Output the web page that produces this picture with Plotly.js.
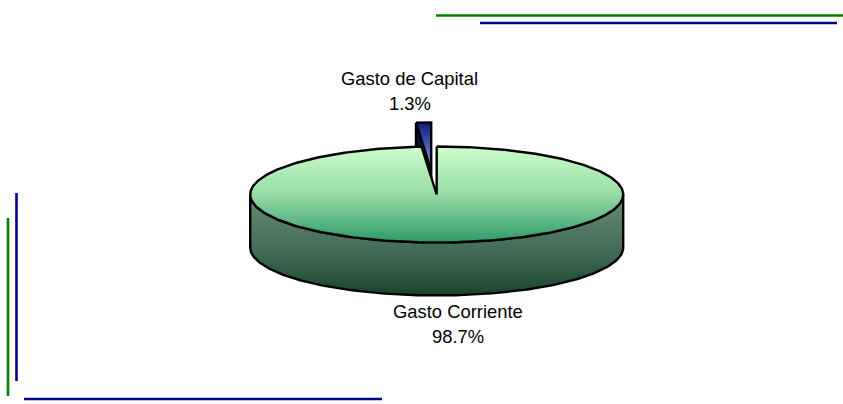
<!DOCTYPE html>
<html>
<head>
<meta charset="utf-8">
<script src="https://cdn.plot.ly/plotly-3.0.1.min.js"></script>
<style>html,body{margin:0;padding:0;background:#fff}#chart{width:843px;height:404px}</style>
</head>
<body>
<div id="chart"></div>
<script>
// Budget split between current and capital spending
const categories = ["Gasto Corriente", "Gasto de Capital"];
const shares = [98.7, 1.3];

// Pie geometry on the pixel-scaled axes
const cx = 436.7, cy = 194.5, rx = 186.5, ry = 48, depth = 53;
const explode = {dx: -5.5, dy: -24};

const outline = {color: "#000000", width: 2.4, shape: "linear"};

function rim(fromDeg, toDeg, ox, oy, drop) {
  const xs = [], ys = [];
  const steps = Math.max(2, Math.ceil(Math.abs(toDeg - fromDeg)));
  for (let i = 0; i <= steps; i++) {
    const t = (fromDeg + (toDeg - fromDeg) * i / steps) * Math.PI / 180;
    xs.push(cx + ox + rx * Math.sin(t));
    ys.push(cy + oy + drop - ry * Math.cos(t));
  }
  return {xs, ys};
}

function poly(xs, ys, stops) {
  return {
    type: "scatter", mode: "lines", x: xs.concat(xs[0]), y: ys.concat(ys[0]),
    fill: "toself", line: outline, hoverinfo: "skip", showlegend: false,
    fillgradient: {type: "vertical", colorscale: stops}
  };
}

// Slice angles follow from the shares, starting at twelve o'clock
const mainEnd = shares[0] / (shares[0] + shares[1]) * 360;

// Exploded capital slice: cut wall, then top face
const capA = rim(mainEnd, 360, explode.dx, explode.dy, 0);
const capWallX = [capA.xs[0], cx + explode.dx, cx + explode.dx, capA.xs[0]];
const capWallY = [capA.ys[0], cy + explode.dy, cy + explode.dy + depth, capA.ys[0] + depth];
const capWall = poly(capWallX, capWallY, [[0, "#0b1a63"], [1, "#050d3a"]]);
const capTop = poly(capA.xs.concat(cx + explode.dx), capA.ys.concat(cy + explode.dy),
                    [[0, "#7aa6ea"], [1, "#101c7a"]]);

// Main slice: front wall, then top face
const front = rim(90, 270, 0, 0, 0);
const frontLow = rim(270, 90, 0, 0, depth);
const mainWall = poly(front.xs.concat(frontLow.xs), front.ys.concat(frontLow.ys),
                      [[0, "#1a452c"], [0.5, "#46705a"], [1, "#6b8a72"]]);
const mainA = rim(0, mainEnd, 0, 0, 0);
const mainTop = poly(mainA.xs.concat(cx), mainA.ys.concat(cy),
                     [[0, "#2f9a68"], [0.5, "#97dca6"], [1, "#ccfdcc"]]);

const labelFont = {family: "Liberation Sans, Arial, sans-serif", size: 18.4, color: "#000000"};
function labelLine(text, x, y) {
  return {text, x, y, xref: "x", yref: "y", showarrow: false, xanchor: "center", yanchor: "middle", font: labelFont};
}
const pct = v => v.toFixed(1) + "%";

const annotations = [
  labelLine(categories[1], 409.5, 78.5),
  labelLine(pct(shares[1]), 409.5, 103.5),
  labelLine(categories[0], 458, 311.5),
  labelLine(pct(shares[0]), 457.5, 336.5)
];

// Decorative rules around the chart
const GREEN = "#008000", NAVY = "#000090";
function rule(x0, y0, x1, y1, color) {
  return {type: "line", xref: "x", yref: "y", x0, y0, x1, y1, line: {color, width: 2.6}};
}
const shapes = [
  rule(436, 15.5, 843, 15.5, GREEN),
  rule(480, 23, 837, 23, NAVY),
  rule(8, 218, 8, 396, GREEN),
  rule(16.5, 193, 16.5, 381, NAVY),
  rule(24, 399, 382, 399, NAVY)
];

Plotly.newPlot("chart", [capWall, capTop, mainWall, mainTop], {
  width: 843, height: 404,
  margin: {l: 0, r: 0, t: 0, b: 0},
  paper_bgcolor: "#ffffff", plot_bgcolor: "#ffffff",
  xaxis: {range: [0, 843], visible: false, fixedrange: true},
  yaxis: {range: [404, 0], visible: false, fixedrange: true},
  showlegend: false, hovermode: false,
  annotations, shapes
}, {displayModeBar: false, staticPlot: true});
</script>
</body>
</html>
